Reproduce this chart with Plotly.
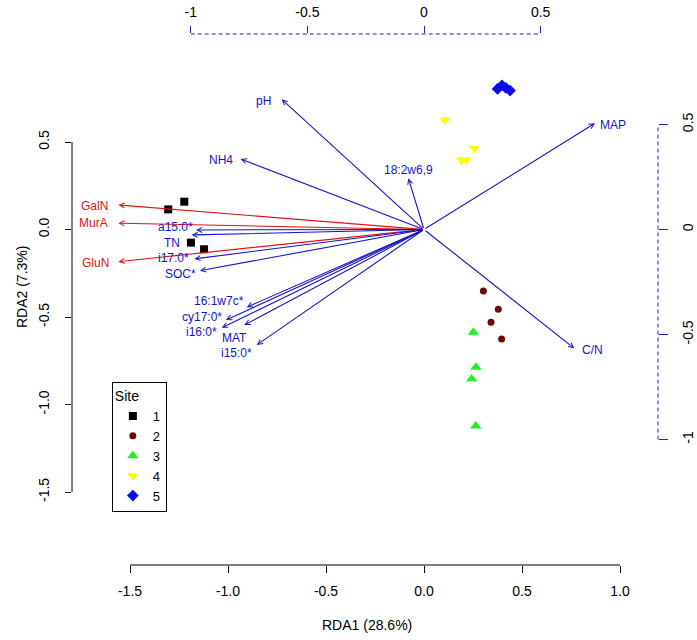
import plotly.graph_objects as go

# ---------------- data ----------------
site_names = ["1", "2", "3", "4", "5"]
site1_x = [-1.305, -1.223, -1.189, -1.122]
site1_y = [0.115, 0.159, -0.075, -0.113]
site2_x = [0.303, 0.379, 0.342, 0.396]
site2_y = [-0.351, -0.456, -0.530, -0.626]
site3_x = [0.252, 0.265, 0.243, 0.264]
site3_y = [-0.587, -0.787, -0.854, -1.123]
site4_x = [0.107, 0.257, 0.192, 0.214]
site4_y = [0.626, 0.464, 0.397, 0.397]
site5_x = [0.375, 0.398, 0.418, 0.439]
site5_y = [0.803, 0.823, 0.809, 0.794]

# response variables (red arrows, loadings scale)
resp_names = ["GalN", "MurA", "GluN"]
resp_x = [-1.310, -1.310, -1.310]
resp_y = [0.117, 0.030, -0.153]
resp_lab_x = [-1.412, -1.416, -1.409]
resp_lab_y = [0.112, 0.030, -0.158]

# explanatory variables (blue arrows, loadings scale)
expl_names = ["pH", "NH4", "18:2w6,9", "MAP", "C/N", "a15:0*", "TN", "i17:0*",
              "SOC*", "16:1w7c*", "cy17:0*", "i16:0*", "MAT", "i15:0*"]
expl_x = [-0.610, -0.786, -0.067, 0.733, 0.644, -0.977, -0.996, -0.984,
          -0.960, -0.760, -0.849, -0.867, -0.770, -0.717]
expl_y = [0.620, 0.336, 0.244, 0.506, -0.566, -0.002, -0.026, -0.140,
          -0.196, -0.370, -0.431, -0.468, -0.455, -0.550]
expl_lab_x = [-0.689, -0.871, -0.067, 0.812, 0.724, -1.066, -1.080, -1.073,
              -1.044, -0.877, -0.952, -0.955, -0.811, -0.803]
expl_lab_y = [0.613, 0.331, 0.283, 0.498, -0.574, 0.012, -0.064, -0.136,
              -0.211, -0.339, -0.415, -0.487, -0.515, -0.590]

bottom_ticks = [-1.5, -1.0, -0.5, 0.0, 0.5, 1.0]
bottom_text = ["-1.5", "-1.0", "-0.5", "0.0", "0.5", "1.0"]
left_ticks = [-1.5, -1.0, -0.5, 0.0, 0.5]
left_text = ["-1.5", "-1.0", "-0.5", "0.0", "0.5"]
top_ticks = [-1, -0.5, 0, 0.5]
top_text = ["-1", "-0.5", "0", "0.5"]
right_ticks = [-1, -0.5, 0, 0.5]
right_text = ["-1", "-0.5", "0", "0.5"]

# ---------------- styles ----------------
FONT = "Liberation Sans, Arial, sans-serif"
BLUE = "#1414C8"
RED = "#E01414"
DASH_BLUE = "#2020C0"

site_styles = [
    dict(symbol="square", color="black", size=8),
    dict(symbol="circle", color="#6B0A0A", size=7),
    dict(symbol="triangle-up", color="#22EE22", size=10),
    dict(symbol="triangle-down", color="#FFFF00", size=10),
    dict(symbol="diamond", color="#0A0AEE", size=9),
]
site_xs = [site1_x, site2_x, site3_x, site4_x, site5_x]
site_ys = [site1_y, site2_y, site3_y, site4_y, site5_y]

fig = go.Figure()

for name, xs, ys, st in zip(site_names, site_xs, site_ys, site_styles):
    fig.add_trace(go.Scatter(
        x=xs, y=ys, mode="markers", name=name,
        marker=dict(symbol=st["symbol"], color=st["color"], size=st["size"],
                    line=dict(width=0)),
        xaxis="x", yaxis="y"))

# invisible trace to activate secondary axes
fig.add_trace(go.Scatter(x=[0], y=[0], mode="markers", marker=dict(opacity=0),
                         showlegend=False, xaxis="x2", yaxis="y2", hoverinfo="skip"))

# arrows
def add_arrows(xs, ys, color):
    for xv, yv in zip(xs, ys):
        fig.add_annotation(x=xv, y=yv, ax=0, ay=0, xref="x2", yref="y2",
                           axref="x2", ayref="y2", text="", showarrow=True,
                           arrowhead=5, arrowsize=0.9, arrowwidth=1.1,
                           arrowcolor=color, standoff=0, startstandoff=0)

def add_labels(names, xs, ys, color):
    for n, xv, yv in zip(names, xs, ys):
        fig.add_annotation(x=xv, y=yv, xref="x2", yref="y2", text=n,
                           showarrow=False, xanchor="center", yanchor="middle",
                           borderpad=0,
                           font=dict(family=FONT, size=12, color=color))

add_arrows(resp_x, resp_y, RED)
add_arrows(expl_x, expl_y, BLUE)
add_labels(resp_names, resp_lab_x, resp_lab_y, RED)
add_labels(expl_names, expl_lab_x, expl_lab_y, BLUE)

# R-style axis lines spanning first to last tick
fig.add_shape(type="line", xref="x", yref="paper", x0=bottom_ticks[0], x1=bottom_ticks[-1],
              y0=0, y1=0, line=dict(color="black", width=1))
fig.add_shape(type="line", xref="paper", yref="y", x0=0, x1=0, y0=left_ticks[0],
              y1=left_ticks[-1], line=dict(color="black", width=1))
fig.add_shape(type="line", xref="x2", yref="paper", x0=top_ticks[0], x1=top_ticks[-1],
              y0=1, y1=1, line=dict(color=DASH_BLUE, width=1, dash="4px,3px"))
fig.add_shape(type="line", xref="paper", yref="y2", x0=1, x1=1, y0=right_ticks[0],
              y1=right_ticks[-1], line=dict(color=DASH_BLUE, width=1, dash="4px,3px"))

# axis titles
fig.add_annotation(text="RDA1 (28.6%)", xref="paper", yref="paper", x=0.503, y=0,
                   yshift=-60, showarrow=False, xanchor="center", yanchor="middle",
                   font=dict(family=FONT, size=14, color="black"))
fig.add_annotation(text="RDA2 (7.3%)", xref="paper", yref="paper", x=0, y=0.5235,
                   xshift=-50, showarrow=False, textangle=-90, xanchor="center",
                   yanchor="middle", font=dict(family=FONT, size=14, color="black"))

common = dict(showgrid=False, zeroline=False, showline=False, ticks="outside",
              automargin=False,
              tickfont=dict(family=FONT, size=14, color="black"), fixedrange=True)

fig.update_layout(
    width=697, height=640,
    margin=dict(l=72, r=39, t=34, b=75, pad=0, autoexpand=False),
    paper_bgcolor="white", plot_bgcolor="white",
    font=dict(family=FONT, size=14, color="black"),
    xaxis=dict(range=[-1.7959, 1.1939], tickvals=bottom_ticks, ticktext=bottom_text,
               ticklen=7, tickcolor="black", ticklabelstandoff=6, **common),
    yaxis=dict(range=[-1.9171, 1.1171], tickvals=left_ticks, ticktext=left_text,
               ticklen=6, tickcolor="black", tickangle=-90, ticklabelstandoff=10, **common),
    xaxis2=dict(range=[-1.5088, 1.0030], tickvals=top_ticks, ticktext=top_text,
                overlaying="x", side="top", anchor="y2", ticklen=7, tickcolor=DASH_BLUE,
                ticklabelstandoff=3, **common),
    yaxis2=dict(range=[-1.5976, 0.9310], tickvals=right_ticks, ticktext=right_text,
                overlaying="y", side="right", anchor="x2", ticklen=9, tickcolor=DASH_BLUE,
                tickangle=-90, ticklabelstandoff=8, **common),
    legend=dict(title=dict(text="Site", font=dict(family=FONT, size=14)),
                x=0.068, y=0.345, xanchor="left", yanchor="top",
                bordercolor="black", borderwidth=1, bgcolor="white",
                font=dict(family=FONT, size=13), itemwidth=30, tracegroupgap=0),
    showlegend=True,
)

fig.write_html("out.html", config={"displayModeBar": False},
               post_script="document.body.style.margin='0px';document.body.style.padding='0px';")
